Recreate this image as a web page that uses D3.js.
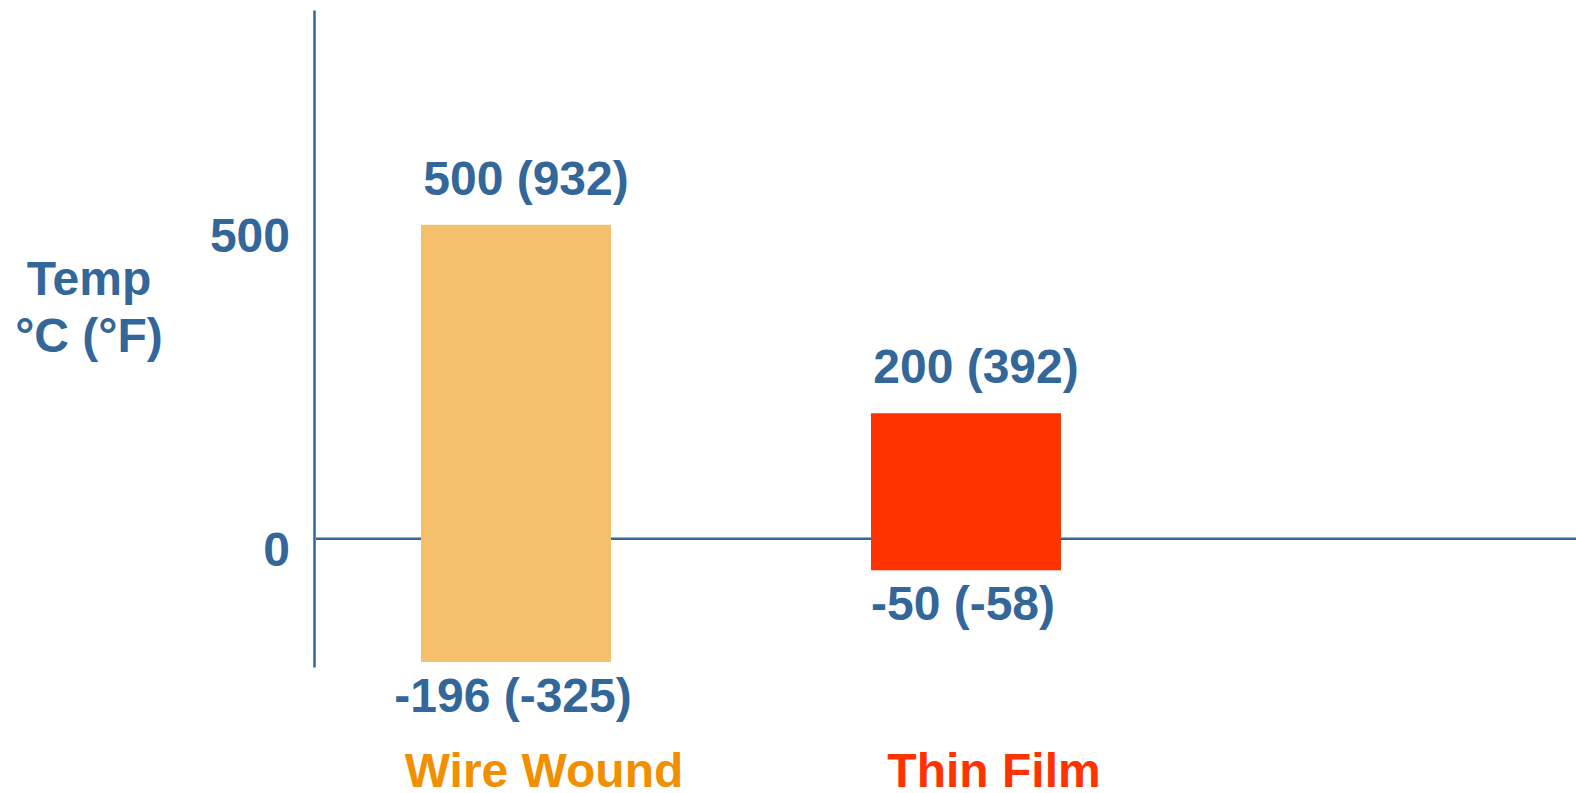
<!DOCTYPE html>
<html lang="en">
<head>
    <meta charset="UTF-8">
    <title>Temperature Range</title>
    <script src="https://d3js.org/d3.v7.min.js"></script>
    <style>
        body {
            margin: 0;
            padding: 0;
            background-color: #fff;
            font-family: "Liberation Sans", Arial, sans-serif;
        }
        svg text {
            font-weight: bold;
            font-size: 48px;
            fill: #336699;
        }
        .axis path {
            stroke: #336699;
            stroke-width: 2.5;
        }
    </style>
</head>
<body>
    <div id="chart"></div>

    <script>
        // chart data
        const categories = ["Wire Wound", "Thin Film"];
        const minC = [-196, -50];
        const maxC = [500, 200];
        const minF = [-325, -58];
        const maxF = [932, 392];
        const tickValues = [0, 500];
        const yTitle = ["Temp", "°C (°F)"];

        const barColors = ["#F4C06C", "#FF3300"];
        const labelColors = ["#F09000", "#FF3300"];

        const width = 1576, height = 793;

        const svg = d3.select("#chart").append("svg")
            .attr("width", width)
            .attr("height", height);

        const y = d3.scaleLinear().domain([-204, 842]).range([667, 10]);

        const x = d3.scaleBand()
            .domain(categories)
            .range([291, 1191])
            .paddingInner(0.5778)
            .paddingOuter(0.2889);

        const axisX = 314;

        // y axis
        const gY = svg.append("g")
            .attr("class", "axis")
            .attr("transform", `translate(${axisX},0)`)
            .call(d3.axisLeft(y).tickValues(tickValues).tickSize(0).tickSizeOuter(0).tickPadding(24));
        gY.selectAll("text")
            .attr("dy", "0.55em")
            .style("font-family", "'Liberation Sans', Arial, sans-serif")
            .style("font-size", "48px");

        // axis title
        svg.append("text")
            .attr("x", 89)
            .attr("y", 295)
            .attr("text-anchor", "middle")
            .selectAll("tspan")
            .data(yTitle)
            .join("tspan")
            .attr("x", 89)
            .attr("dy", (d, i) => i === 0 ? 0 : 57)
            .text(d => d);

        const data = categories.map((c, i) => ({
            cat: c, lo: minC[i], hi: maxC[i], loF: minF[i], hiF: maxF[i], i: i
        }));

        // bars
        const bars = svg.selectAll(".bar")
            .data(data)
            .join("rect")
            .attr("class", (d, i) => "bar bar-" + i)
            .attr("x", d => x(d.cat))
            .attr("width", x.bandwidth())
            .attr("y", d => y(d.hi))
            .attr("height", d => y(d.lo) - y(d.hi))
            .attr("fill", (d, i) => barColors[i]);

        // zero line sits above thin film but below wire wound
        svg.insert("line", ".bar-0")
            .attr("x1", axisX + 2)
            .attr("x2", width)
            .attr("y1", y(0))
            .attr("y2", y(0))
            .attr("stroke", "#336699")
            .attr("stroke-width", 2.5);
        svg.select(".bar-0").raise();

        // value labels
        svg.selectAll(".hiLabel")
            .data(data)
            .join("text")
            .attr("class", "hiLabel")
            .attr("text-anchor", "middle")
            .attr("x", d => x(d.cat) + x.bandwidth() / 2 + 10)
            .attr("y", d => y(d.hi) - 30)
            .text(d => `${d.hi} (${d.hiF})`);

        svg.selectAll(".loLabel")
            .data(data)
            .join("text")
            .attr("class", "loLabel")
            .attr("text-anchor", "middle")
            .attr("x", d => x(d.cat) + x.bandwidth() / 2 - 3)
            .attr("y", d => y(d.lo) + 50)
            .text(d => `${d.lo} (${d.loF})`);

        // category labels
        svg.selectAll(".catLabel")
            .data(data)
            .join("text")
            .attr("class", "catLabel")
            .attr("text-anchor", "middle")
            .attr("x", d => x(d.cat) + x.bandwidth() / 2 + 28)
            .attr("y", 787)
            .style("fill", (d, i) => labelColors[i])
            .text(d => d.cat);
    </script>
</body>
</html>
